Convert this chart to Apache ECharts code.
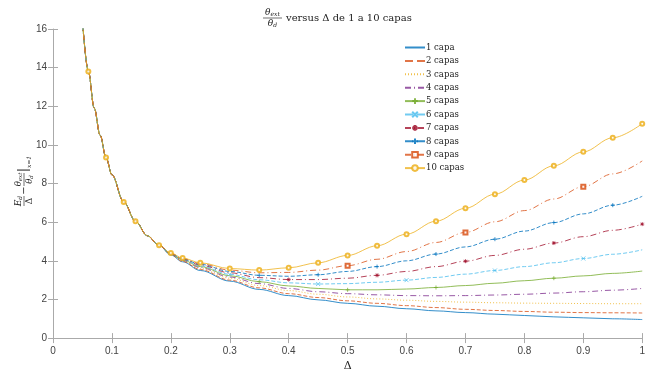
<!DOCTYPE html>
<html><head><meta charset="utf-8">
<script src="https://cdn.jsdelivr.net/npm/echarts@6/dist/echarts.min.js"></script>
<style>html,body{margin:0;padding:0;background:#fff}#c{width:648px;height:377px}</style>
</head><body><div id="c"></div>
<script>
var xs = [0.05,0.06,0.07,0.08,0.09,0.10,0.12,0.14,0.16,0.18,0.20,0.22,0.25,0.30,0.35,0.40,0.45,0.50,0.55,0.60,0.65,0.70,0.75,0.80,0.85,0.90,0.95,1.00];
var capa1  = [16.4,13.8,11.9,10.5,9.35,8.45,7.05,6.05,5.3,4.8, 4.30,3.95,3.50,2.95,2.52,2.20,1.98,1.80,1.65,1.52,1.41,1.32,1.24,1.17,1.10,1.05,1.00,0.96];
var capa2  = [16.4,13.8,11.9,10.5,9.35,8.45,7.05,6.05,5.3,4.8, 4.32,3.97,3.55,3.00,2.60,2.30,2.10,1.93,1.80,1.68,1.58,1.49,1.43,1.38,1.34,1.32,1.31,1.30];
var capa3  = [16.4,13.8,11.9,10.5,9.35,8.45,7.05,6.05,5.3,4.8, 4.33,4.00,3.60,3.10,2.72,2.46,2.27,2.13,2.03,1.96,1.90,1.86,1.83,1.81,1.80,1.79,1.78,1.78];
var capa4  = [16.4,13.8,11.9,10.5,9.35,8.45,7.05,6.05,5.3,4.8, 4.34,4.02,3.65,3.16,2.82,2.57,2.40,2.30,2.24,2.20,2.19,2.20,2.23,2.27,2.33,2.40,2.48,2.57];
var capa5  = [16.4,13.8,11.9,10.5,9.35,8.45,7.05,6.05,5.3,4.8, 4.35,4.04,3.70,3.23,2.92,2.70,2.57,2.50,2.50,2.54,2.62,2.72,2.84,2.97,3.10,3.22,3.35,3.47];
var capa6  = [16.4,13.8,11.9,10.5,9.35,8.45,7.05,6.05,5.3,4.8, 4.36,4.06,3.74,3.30,3.02,2.86,2.80,2.82,2.89,3.00,3.14,3.31,3.50,3.70,3.90,4.12,4.34,4.57];
var capa7  = [16.4,13.8,11.9,10.5,9.35,8.45,7.05,6.05,5.3,4.8, 4.37,4.08,3.78,3.38,3.13,3.03,3.03,3.10,3.25,3.45,3.70,3.98,4.28,4.60,4.92,5.25,5.58,5.90];
var capa8  = [16.4,13.8,11.9,10.5,9.35,8.45,7.05,6.05,5.3,4.8, 4.38,4.10,3.82,3.45,3.25,3.20,3.28,3.45,3.70,4.00,4.35,4.72,5.12,5.54,5.98,6.43,6.88,7.34];
var capa9  = [16.4,13.8,11.9,10.5,9.35,8.45,7.05,6.05,5.3,4.8, 4.39,4.12,3.86,3.52,3.38,3.40,3.52,3.75,4.08,4.48,4.95,5.47,6.02,6.60,7.20,7.84,8.50,9.17];
var capa10 = [16.4,13.8,11.9,10.5,9.35,8.45,7.05,6.05,5.3,4.8, 4.40,4.14,3.90,3.60,3.52,3.64,3.90,4.28,4.78,5.38,6.05,6.72,7.45,8.18,8.92,9.64,10.37,11.10];
var seriesNames = ['1 capa','2 capas','3 capas','4 capas','5 capas','6 capas','7 capas','8 capas','9 capas','10 capas'];
var xTickLabels = ['0','0.1','0.2','0.3','0.4','0.5','0.6','0.7','0.8','0.9','1'];
var yTickLabels = ['0','2','4','6','8','10','12','14','16'];

var allData = [capa1,capa2,capa3,capa4,capa5,capa6,capa7,capa8,capa9,capa10];
var colors = ['#0072BD','#D95319','#EDB120','#7E2F8E','#77AC30','#4DBEEE','#A2142F','#0072BD','#D95319','#EDB120'];
var lineTypes = ['solid','dashed',[1,2],[6,3,1,3],'solid','dashed',[6,3,1,3],'dashed',[6,3,1,3],'solid'];
var plus = 'path://M0,-5 L0,5 M-5,0 L5,0';
var cross = 'path://M-4,-4 L4,4 M-4,4 L4,-4';
var star = 'path://M0,-5 L0,5 M-5,0 L5,0 M-3.5,-3.5 L3.5,3.5 M-3.5,3.5 L3.5,-3.5';
var symbols = ['emptyCircle','emptyCircle','emptyCircle','emptyCircle',plus,cross,star,plus,'emptyRect','emptyCircle'];
var hasMarks = [false,false,false,false,true,true,true,true,true,true];
var markIdx = [[],[],[],[],
  [14,17,20,24],[13,16,19,22,25],[15,18,21,24,27],[14,16,18,20,22,24,26],[17,21,25],
  [1,4,6,7,9,10,11,12,13,14,15,16,17,18,19,20,21,22,23,24,25,26,27]];

var series = allData.map(function(arr,i){
  var data = arr.map(function(v,j){
    var item = {value:[xs[j],v]};
    if (markIdx[i].indexOf(j) < 0) item.symbol = 'none';
    return item;
  });
  return {
    name: seriesNames[i], type:'line', data:data, smooth:0.35, smoothMonotone:'x',
    symbol: symbols[i], symbolSize: 4, showSymbol: true, showAllSymbol:true, z: 2+i,
    lineStyle:{color:colors[i], width:1, type:lineTypes[i], opacity:0.8},
    itemStyle:{color: colors[i], borderColor:colors[i], borderWidth:0.9, opacity:0.85},
    emphasis:{disabled:true}, animation:false
  };
});

var legendData = seriesNames.map(function(n,i){
  return hasMarks[i] ? {name:n} : {name:n, itemStyle:{opacity:0}};
});

var serif = 'DejaVu Serif';
var chart = echarts.init(document.getElementById('c'));
chart.setOption({
  animation:false,
  grid:{left:53, right:5, top:29, bottom:33},
  legend:{
    orient:'vertical', left:399, top:38, itemWidth:20, itemHeight:7, itemGap:4.4,
    textStyle:{fontFamily:serif, fontSize:8.5, color:'#222', padding:[0,0,0,-4]},
    data: legendData
  },
  xAxis:[{
    type:'value', min:0, max:1, interval:0.1,
    axisLine:{show:false}, splitLine:{show:false},
    axisTick:{inside:true, length:5, lineStyle:{color:'#aaa'}},
    axisLabel:{color:'#444', fontSize:10, fontFamily:'Liberation Sans', margin:8,
      formatter:function(v){return xTickLabels[Math.round(v*10)];}},
    name:'Δ', nameLocation:'middle', nameGap:22, nameTextStyle:{fontFamily:serif, fontSize:11, color:'#222'}
  },{
    type:'value', min:0, max:1, interval:0.1, position:'top',
    axisLine:{show:true, lineStyle:{color:'#aaa'}}, splitLine:{show:false},
    axisTick:{inside:true, length:5, lineStyle:{color:'#aaa'}}, axisLabel:{show:false}
  }],
  yAxis:[{
    type:'value', min:0, max:16, interval:2,
    axisLine:{show:true, lineStyle:{color:'#aaa'}}, splitLine:{show:false},
    axisTick:{show:true, inside:true, length:5, lineStyle:{color:'#aaa'}},
    axisLabel:{color:'#444', fontSize:10, fontFamily:'Liberation Sans', margin:6,
      formatter:function(v){return yTickLabels[Math.round(v/2)];}}
  },{
    type:'value', min:0, max:16, interval:2, position:'right',
    axisLine:{show:false}, splitLine:{show:false},
    axisTick:{show:true, inside:true, length:5, lineStyle:{color:'#aaa'}}, axisLabel:{show:false}
  }],
  series: series,
  graphic:[
    {type:'text', x:272.5, y:12.5, style:{text:'{i|θ}{s|ext}', rich:{i:{fontFamily:serif,fontSize:9,fontStyle:'italic'},s:{fontFamily:serif,fontSize:6,fontStyle:'italic',padding:[4,0,0,0]}}, fill:'#222', align:'center', verticalAlign:'middle'}},
    {type:'line', shape:{x1:263,y1:18,x2:282,y2:18}, style:{stroke:'#333', lineWidth:0.7}},
    {type:'text', x:272.5, y:23.5, style:{text:'{i|θ}{s|d}', rich:{i:{fontFamily:serif,fontSize:9,fontStyle:'italic'},s:{fontFamily:serif,fontSize:6,fontStyle:'italic',padding:[4,0,0,0]}}, fill:'#222', align:'center', verticalAlign:'middle'}},
    {type:'text', x:286, y:18, style:{text:'versus Δ de 1 a 10 capas', fontFamily:serif, fontSize:10, fill:'#222', align:'left', verticalAlign:'middle'}},
    {type:'group', x:24, y:181, rotation:Math.PI/2, children:[
      {type:'text', x:-20, y:-5.5, style:{text:'{i|E}{s|d}', rich:{i:{fontFamily:serif,fontSize:9,fontStyle:'italic'},s:{fontFamily:serif,fontSize:6,fontStyle:'italic',padding:[4,0,0,0]}}, fill:'#222', align:'center', verticalAlign:'middle'}},
      {type:'line', shape:{x1:-25,y1:0,x2:-15,y2:0}, style:{stroke:'#333', lineWidth:0.7}},
      {type:'text', x:-20, y:6, style:{text:'Δ', fontFamily:serif, fontSize:9, fill:'#222', align:'center', verticalAlign:'middle'}},
      {type:'text', x:-9.5, y:0, style:{text:'−', fontFamily:serif, fontSize:10, fill:'#222', align:'center', verticalAlign:'middle'}},
      {type:'text', x:1.5, y:-5.5, style:{text:'{i|θ}{s|ext}', rich:{i:{fontFamily:serif,fontSize:8.5,fontStyle:'italic'},s:{fontFamily:serif,fontSize:5.5,fontStyle:'italic',padding:[4,0,0,0]}}, fill:'#222', align:'center', verticalAlign:'middle'}},
      {type:'line', shape:{x1:-5,y1:0,x2:8,y2:0}, style:{stroke:'#333', lineWidth:0.7}},
      {type:'text', x:1.5, y:6, style:{text:'{i|θ}{s|d}', rich:{i:{fontFamily:serif,fontSize:8.5,fontStyle:'italic'},s:{fontFamily:serif,fontSize:5.5,fontStyle:'italic',padding:[4,0,0,0]}}, fill:'#222', align:'center', verticalAlign:'middle'}},
      {type:'text', x:11, y:0, style:{text:'|', fontFamily:serif, fontSize:13, fill:'#222', align:'center', verticalAlign:'middle'}},
      {type:'text', x:19, y:5.5, style:{text:'x=1', fontFamily:serif, fontSize:6, fontStyle:'italic', fill:'#222', align:'center', verticalAlign:'middle'}}
    ]}
  ]
});
</script></body></html>
